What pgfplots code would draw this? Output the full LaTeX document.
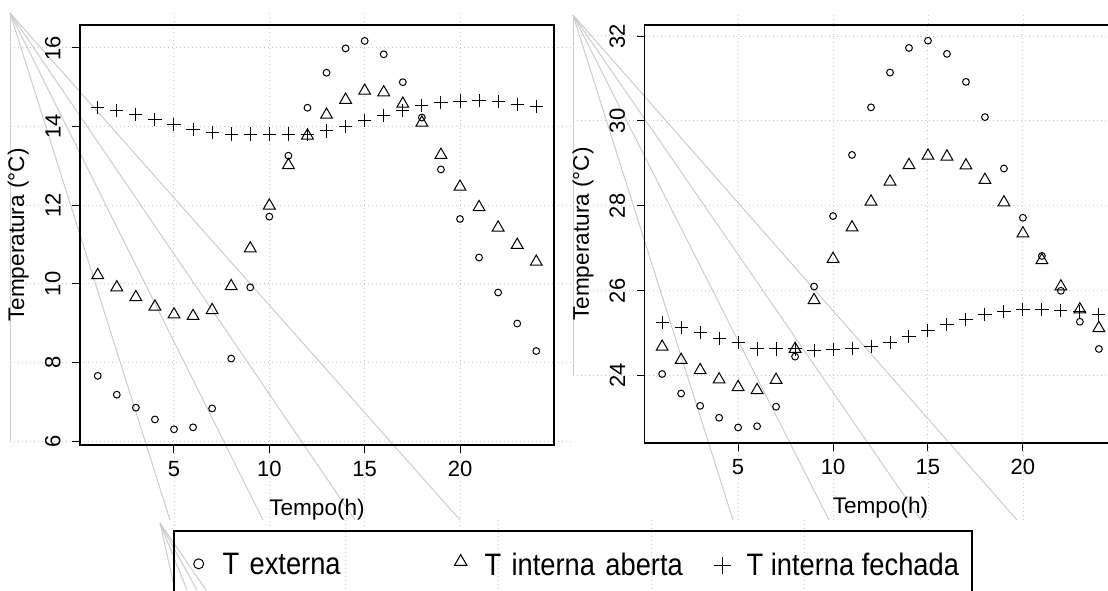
\documentclass[border=0pt]{standalone}
\usepackage{fontspec}
\setmainfont{Liberation Sans}
\newfontfamily\legfont[FakeStretch=0.88]{Liberation Sans}
\usepackage{pgfplots}
\pgfplotsset{compat=1.18}
\definecolor{fanc}{gray}{0.8}
\definecolor{gridc}{gray}{0.78}

\pgfplotsset{
  rpanel/.style={
    scale only axis, anchor=south west,
    xmin=0.07, xmax=24.93,
    xtick={5,10,15,20},
    tick align=outside, xtick pos=left, ytick pos=left,
    major tick length=4pt,
    tick style={black, line width=0.5pt},
    axis line style={line width=0.8pt},
    grid=major,
    grid style={gridc, line width=0.5pt, dash pattern=on 0.5pt off 1.5pt},
    /pgf/number format/assume math mode=true,
    ticklabel style={font=\fontsize{11}{13}\selectfont},
    yticklabel style={rotate=90, anchor=south, inner sep=0pt},
    xticklabel style={anchor=north, inner sep=0pt},
    xticklabel shift=4pt, yticklabel shift=5.5pt,
    label style={font=\fontsize{11.3}{13}\selectfont},
    xlabel={Tempo(h)}, ylabel={Temperatura (°C)},
    xlabel style={at={(axis description cs:0.5,-0.155)}, anchor=center},
    ylabel style={at={(axis description cs:-0.13,0.5)}, anchor=center},
  },
  ext/.style={only marks, mark=o, mark size=1.7pt, mark options={line width=0.5pt},
    legend image code/.code={\path[draw=none, fill=none] (0pt,0pt) rectangle (12pt,1pt);
      \draw[##1, mark size=2.5pt] plot coordinates {(6pt,6pt)};}},
  abe/.style={only marks, mark=triangle, mark size=3.4pt, mark options={line width=0.5pt},
    legend image code/.code={\path[draw=none, fill=none] (0pt,0pt) rectangle (12pt,1pt);
      \draw[##1, mark size=3.6pt] plot coordinates {(6pt,7pt)};}},
  fec/.style={only marks, mark=+, mark size=3.3pt, mark options={line width=0.5pt},
    legend image code/.code={\path[draw=none, fill=none] (0pt,0pt) rectangle (12pt,1pt);
      \draw[##1, mark size=4.2pt] plot coordinates {(6pt,5pt)};}},
}

\begin{document}
\begin{tikzpicture}
\begin{scope}
\clip (0,0) rectangle (554pt,295pt);

% stray grey strokes and grid leftovers of the original device (pixel units)
\begin{scope}[x=0.5pt, y=-0.5pt, yshift=295pt]
  \tikzset{gx/.style={gridc, line width=0.5pt, dash pattern=on 0.5pt off 1.5pt},
           fn/.style={fanc, line width=0.5pt}}
  \foreach \y in {48,126.6,205.2,283.8,362.4,441} {
    \draw[gx] (10,\y) -- (80,\y);
    \draw[gx] (554,\y) -- (572,\y);
  }
  \foreach \x in {174,269.3,364.7,460} {
    \draw[gx] (\x,13) -- (\x,25);
    \draw[gx] (\x,445) -- (\x,528);
  }
  \foreach \y in {36,120.9,205.8,290.8,375.7}
    \draw[gx] (573,\y) -- (644.5,\y);
  \foreach \x in {738.3,833.3,928.3,1023.3} {
    \draw[gx] (\x,15) -- (\x,25);
    \draw[gx] (\x,443) -- (\x,520);
  }
  \foreach \x in {345,498,651,804}
    \draw[gx] (\x,520) -- (\x,590);
  \draw[fn] (10,13) -- (10,441);
  \foreach \x in {170,263,355,460} \draw[fn] (10,13) -- (\x,520);
  \draw[fn] (573,15) -- (573,376);
  \foreach \x in {733,829,921,1017} \draw[fn] (573,15) -- (\x,520);
  \foreach \x in {175,187,197,206} \draw[fn] (160,523) -- (\x,590);
\end{scope}

\begin{axis}[rpanel,
  at={(40pt,72.5pt)}, width=237pt, height=210pt,
  ymin=5.9, ymax=16.585, ytick={6,8,...,16},
  legend columns=3,
  legend style={at={(axis description cs:0.196,-0.2024)}, anchor=north west,
    draw=black, line width=0.8pt, fill=none,
    font=\legfont\fontsize{15.5}{18}\selectfont,
    inner xsep=6.5pt, inner ysep=10.9pt, column sep=6pt,
    nodes={inner sep=0pt, text depth=12pt},
    /tikz/column 2/.style={text width=107pt},
    /tikz/column 4/.style={text width=107pt}},
]
\addplot[ext] coordinates {(1,7.66)(2,7.18)(3,6.85)(4,6.55)(5,6.30)(6,6.35)(7,6.83)(8,8.10)(9,9.91)(10,11.71)(11,13.26)(12,14.48)(13,15.37)(14,15.99)(15,16.18)(16,15.84)(17,15.13)(18,14.23)(19,12.91)(20,11.65)(21,10.67)(22,9.78)(23,8.99)(24,8.29)};
\addplot[abe] coordinates {(1,10.22)(2,9.91)(3,9.66)(4,9.42)(5,9.22)(6,9.18)(7,9.33)(8,9.94)(9,10.90)(10,11.99)(11,13.02)(12,13.77)(13,14.30)(14,14.68)(15,14.91)(16,14.87)(17,14.58)(18,14.10)(19,13.28)(20,12.47)(21,11.95)(22,11.43)(23,10.99)(24,10.56)};
\addplot[fec] coordinates {(1,14.49)(2,14.40)(3,14.30)(4,14.19)(5,14.06)(6,13.93)(7,13.85)(8,13.81)(9,13.81)(10,13.81)(11,13.81)(12,13.79)(13,13.89)(14,14.00)(15,14.15)(16,14.28)(17,14.42)(18,14.54)(19,14.61)(20,14.65)(21,14.66)(22,14.63)(23,14.57)(24,14.51)};
\legend{T externa, T interna aberta, T interna fechada}
\end{axis}

\begin{axis}[rpanel,
  at={(322.25pt,73.5pt)}, width=236pt, height=209pt,
  ymin=22.415, ymax=32.26, ytick={24,26,...,32},
]
\addplot[ext] coordinates {(1,24.04)(2,23.58)(3,23.29)(4,23.01)(5,22.78)(6,22.81)(7,23.27)(8,24.45)(9,26.10)(10,27.76)(11,29.20)(12,30.32)(13,31.14)(14,31.72)(15,31.89)(16,31.58)(17,30.92)(18,30.09)(19,28.88)(20,27.72)(21,26.82)(22,26.00)(23,25.27)(24,24.63)};
\addplot[abe] coordinates {(1,24.68)(2,24.37)(3,24.13)(4,23.91)(5,23.73)(6,23.66)(7,23.90)(8,24.63)(9,25.78)(10,26.75)(11,27.49)(12,28.10)(13,28.57)(14,28.96)(15,29.18)(16,29.16)(17,28.95)(18,28.61)(19,28.08)(20,27.35)(21,26.72)(22,26.10)(23,25.56)(24,25.12)};
\addplot[fec] coordinates {(1,25.25)(2,25.13)(3,25.01)(4,24.88)(5,24.78)(6,24.63)(7,24.63)(8,24.63)(9,24.60)(10,24.62)(11,24.64)(12,24.68)(13,24.79)(14,24.92)(15,25.06)(16,25.21)(17,25.33)(18,25.45)(19,25.51)(20,25.55)(21,25.55)(22,25.53)(23,25.51)(24,25.43)};
\end{axis}
\end{scope}
\pgfresetboundingbox
\path[use as bounding box] (0,0) rectangle (554pt,295pt);
\end{tikzpicture}
\end{document}
